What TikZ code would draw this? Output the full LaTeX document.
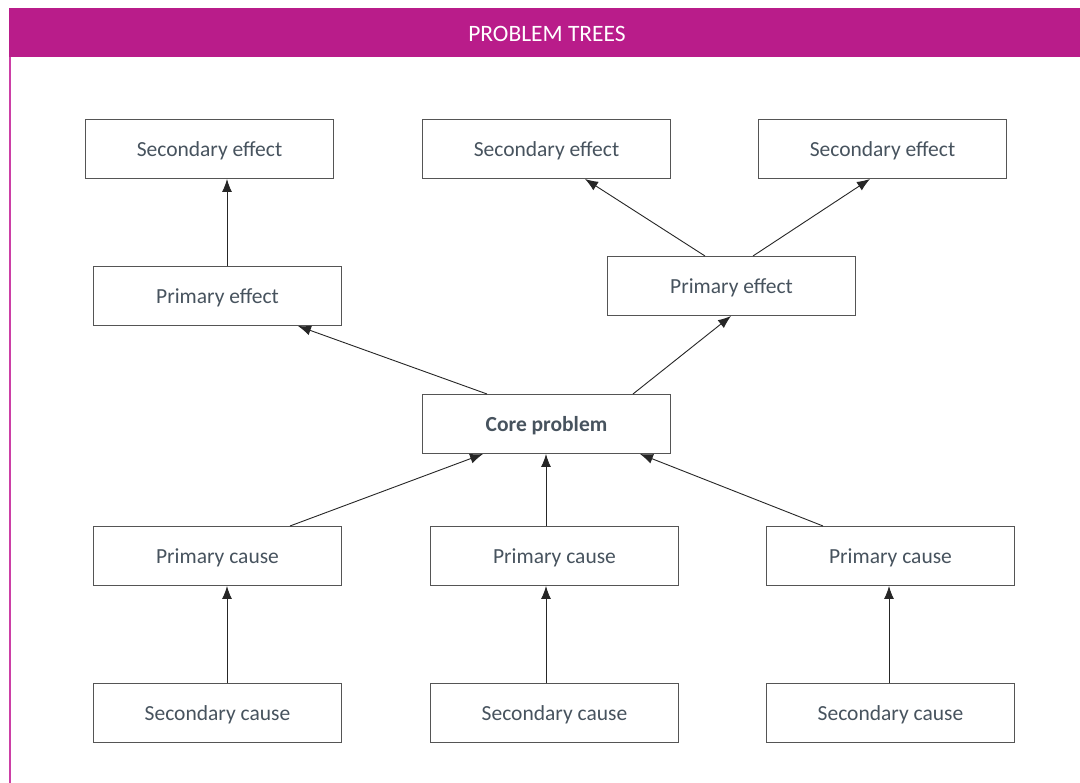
\documentclass[tikz,border=0pt]{standalone}
\usepackage{fontspec}
\setmainfont{Carlito}
\usetikzlibrary{calc,arrows.meta}
\definecolor{magentahdr}{HTML}{B91C8A}
\definecolor{borderpink}{HTML}{CC3FA6}
\definecolor{boxline}{HTML}{555555}
\definecolor{txt}{HTML}{47535E}
\tikzset{
  box/.style={draw=boxline, line width=1pt, fill=white, minimum width=248pt, minimum height=59pt, inner sep=0pt, text depth=0pt, text=txt, font=\fontsize{21.5}{24}\selectfont, anchor=north west},
  arr/.style={draw=black!85, line width=0.9pt, -{Latex[length=13pt,width=10pt]}}
}
\begin{document}
\begin{tikzpicture}[x=1pt,y=-1pt]
\useasboundingbox (0,0) rectangle (1080,783);
\fill[white] (0,0) rectangle (1080,783);
\fill[magentahdr] (9,8) rectangle (1080,57);
\fill[borderpink] (9,57) rectangle (11,783);
\node[text=white, font=\fontsize{23.5}{26}\selectfont] (title) at (547,34) {PROBLEM TREES};
% effects
\node[box] (se1) at (85,119) {Secondary effect};
\node[box] (se2) at (422,119) {Secondary effect};
\node[box] (se3) at (758,119) {Secondary effect};
\node[box] (pe1) at (93,266) {Primary effect};
\node[box] (pe2) at (607,256) {Primary effect};
\node[box, font=\fontsize{21.5}{24}\selectfont\bfseries] (core) at (422,394) {Core problem};
% causes
\node[box] (pc1) at (93,526) {Primary cause};
\node[box] (pc2) at (430,526) {Primary cause};
\node[box] (pc3) at (766,526) {Primary cause};
\node[box] (sc1) at (93,683) {Secondary cause};
\node[box] (sc2) at (430,683) {Secondary cause};
\node[box] (sc3) at (766,683) {Secondary cause};
% arrows
\draw[arr] ($(pe1.north west)+(134,0)$) -- ($(se1.south west)+(142,0)$);
\draw[arr] ($(core.north west)+(65,0)$) -- ($(pe1.south east)+(-44,0)$);
\draw[arr] ($(core.north west)+(211,0)$) -- ($(pe2.south west)+(124,0)$);
\draw[arr] ($(pe2.north west)+(98,0)$) -- ($(se2.south west)+(163,0)$);
\draw[arr] ($(pe2.north west)+(146,0)$) -- ($(se3.south west)+(112,0)$);
\draw[arr] ($(pc1.north west)+(197,0)$) -- ($(core.south west)+(61,0)$);
\draw[arr] ($(pc2.north west)+(116,0)$) -- ($(core.south west)+(124,0)$);
\draw[arr] ($(pc3.north west)+(57,0)$) -- ($(core.south west)+(218,0)$);
\draw[arr] ($(sc1.north west)+(134,0)$) -- ($(pc1.south west)+(134,0)$);
\draw[arr] ($(sc2.north west)+(116,0)$) -- ($(pc2.south west)+(116,0)$);
\draw[arr] ($(sc3.north west)+(123,0)$) -- ($(pc3.south west)+(123,0)$);
\end{tikzpicture}
\end{document}
